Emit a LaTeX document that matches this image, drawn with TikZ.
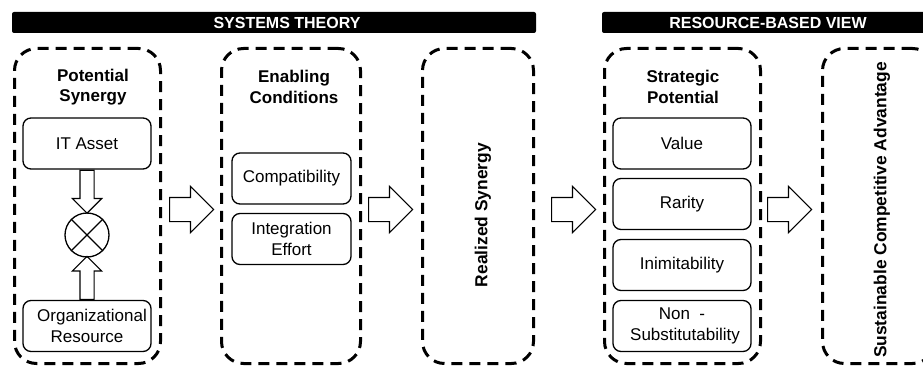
\documentclass[tikz,border=0pt]{standalone}
\usepackage{fontspec}
\setmainfont{Liberation Sans}
\usetikzlibrary{shapes.arrows,positioning,calc}

\tikzset{
  hdrbar/.style={fill=black,rounded corners=2pt,minimum height=21pt,inner sep=0pt},
  hdrtext/.style={text=white,font=\fontsize{16}{18}\selectfont\bfseries},
  stagebox/.style={draw,line width=3pt,dash pattern=on 11pt off 7pt,
    rounded corners=22pt,minimum height=315pt,inner sep=0pt},
  stagetitle/.style={align=center,font=\fontsize{17}{20.5}\selectfont\bfseries},
  stagevert/.style={rotate=90,font=\fontsize{17.4}{20}\selectfont\bfseries},
  itembox/.style={draw,line width=1.3pt,rounded corners=8pt,align=center,
    minimum height=51pt,inner sep=0pt,font=\fontsize{17}{20.5}\selectfont},
  flowarrow/.style={single arrow,draw,line width=1.2pt,inner xsep=0pt,inner ysep=11.5pt,
    single arrow head extend=11pt,minimum height=44pt,minimum width=0pt,anchor=tail},
  feedarrow/.style={single arrow,draw,line width=1.2pt,inner xsep=0pt,inner ysep=6.5pt,
    single arrow head extend=7.5pt,minimum height=43pt,minimum width=0pt,anchor=tail,
    outer sep=0pt},
  mixer/.style={draw,circle,line width=1.3pt,minimum size=44pt,inner sep=0pt}
}

\begin{document}
\begin{tikzpicture}[x=1pt,y=-1pt]
\useasboundingbox (0,0) rectangle (923,369);

% headers
\node[hdrbar,minimum width=524pt] (systbar) at (274,22.5) {};
\node[hdrtext] (systtext) at (287,22.5) {SYSTEMS THEORY};
\node[hdrbar,minimum width=340pt] (rbvbar) at (772,22.5) {};
\node[hdrtext] (rbvtext) at (768,22.5) {RESOURCE-BASED VIEW};

% stages
\node[stagebox,minimum width=146pt] (potbox) at (87.5,206) {};
\node[stagebox,minimum width=139pt] (enabbox) at (291,206) {};
\node[stagebox,minimum width=111pt] (realbox) at (478,206) {};
\node[stagebox,minimum width=156pt] (stratbox) at (682.5,206) {};
\node[stagebox,minimum width=112pt] (sustbox) at (878.5,206) {};

\node[stagetitle] (pottitle) at (93,87) {Potential\\Synergy};
\node[stagetitle] (enabtitle) at (294,87) {Enabling\\Conditions};
\node[stagetitle] (strattitle) at (683,87) {Strategic\\Potential};
\node[stagevert] (realtext) at (483,215) {Realized Synergy};
\node[stagevert] (susttext) at (882,210) {Sustainable Competitive Advantage};

% potential synergy
\node[itembox,minimum width=128pt] (itasset) at (87,143.5) {IT Asset};
\node[itembox,minimum width=128pt] (orgres) at (87,326) {\hspace*{10pt}Organizational\\Resource};
\node[mixer] (mix) at (87,235) {};
\draw[line width=1.3pt] (mix.north west) -- (mix.south east)
  (mix.north east) -- (mix.south west);
\node[feedarrow,rotate=-90] (itarr) at ($(itasset.south)+(0,0.5)$) {};
\node[feedarrow,rotate=90] (orgarr) at ($(orgres.north)+(0,-0.5)$) {};

% enabling conditions
\node[itembox,minimum width=119pt] (compat) at (291.5,178.5) {Compatibility};
\node[itembox,minimum width=119pt] (integ) at (291.5,239) {Integration\\Effort};

% strategic potential
\node[itembox,minimum width=138pt] (value) at (682,143.5) {Value};
\node[itembox,minimum width=138pt] (rarity) at (682,204) {Rarity};
\node[itembox,minimum width=138pt] (inimit) at (682,265) {Inimitability};
\node[itembox,minimum width=138pt] (nonsub) at (682,326) {Non\ \ -\\\hspace*{6pt}Substitutability};

% flow between stages
\node[flowarrow] (flow1) at ($(potbox.east)+(7,3.5)$) {};
\node[flowarrow] (flow2) at ($(enabbox.east)+(6,3.5)$) {};
\node[flowarrow] (flow3) at ($(realbox.east)+(16,3.5)$) {};
\node[flowarrow] (flow4) at ($(stratbox.east)+(5,3.5)$) {};
\end{tikzpicture}
\end{document}
